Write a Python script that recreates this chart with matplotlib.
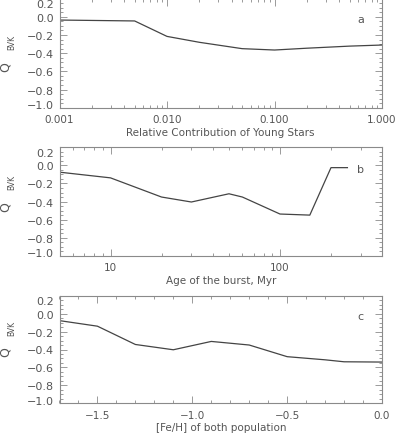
import matplotlib
matplotlib.use("Agg")
import matplotlib.pyplot as plt
import matplotlib.transforms as mtrans
from matplotlib.ticker import LogLocator, MultipleLocator, NullFormatter

# ---- data ----
frac_young = [0.001, 0.005, 0.01, 0.02, 0.05, 0.1, 0.2, 0.5, 1.0]
q_frac = [-0.035, -0.045, -0.215, -0.28, -0.35, -0.365, -0.345, -0.322, -0.31]

burst_age = [5, 10, 20, 30, 50, 60, 100, 150, 200, 250]
q_age = [-0.075, -0.138, -0.35, -0.405, -0.314, -0.35, -0.538, -0.55, -0.025, -0.025]

feh = [-1.7, -1.5, -1.3, -1.1, -0.9, -0.7, -0.5, -0.3, -0.2, 0.0]
q_feh = [-0.078, -0.14, -0.344, -0.403, -0.31, -0.35, -0.48, -0.515, -0.537, -0.54]

ytick_vals = [0.2, 0.0, -0.2, -0.4, -0.6, -0.8, -1.0]
ytick_labels = ["0.2", "0.0", "\u22120.2", "\u22120.4", "\u22120.6", "\u22120.8", "\u22121.0"]

a_ticks = [0.001, 0.01, 0.1, 1.0]
a_labels = ["0.001", "0.010", "0.100", "1.000"]
b_ticks = [10, 100]
b_labels = ["10", "100"]
c_ticks = [-1.5, -1.0, -0.5, 0.0]
c_labels = ["\u22121.5", "\u22121.0", "\u22120.5", "0.0"]

xlabels = ["Relative Contribution of Young Stars", "Age of the burst, Myr",
           "[Fe/H] of both population"]
panel_tags = ["a", "b", "c"]

# ---- layout (pixels) ----
W, H = 397, 435
fig = plt.figure(figsize=(W / 100, H / 100), dpi=100)
plt.rcParams['font.family'] = ['DejaVu Sans']

LINE = "#444444"
FRAME = "#8a8a8a"
TXT = "#555555"

left, right = 59.5, 382.0
frames = [(-0.3, 108.7), (148.3, 256.8), (296.7, 404.3)]
axes = []
for (top, bot) in frames:
    ax = fig.add_axes([left / W, 1 - bot / H, (right - left) / W, (bot - top) / H])
    axes.append(ax)

# panel a
ax = axes[0]
ax.plot(frac_young, q_frac, color=LINE, lw=0.9)
ax.set_xscale('log')
ax.set_xlim(0.001, 1.0)
ax.set_xticks(a_ticks)
ax.set_xticklabels(a_labels)
ax.xaxis.set_minor_locator(LogLocator(base=10, subs=range(2, 10)))
ax.xaxis.set_minor_formatter(NullFormatter())

# panel b
ax = axes[1]
ax.plot(burst_age, q_age, color=LINE, lw=0.9)
ax.set_xscale('log')
ax.set_xlim(5, 400)
ax.set_xticks(b_ticks)
ax.set_xticklabels(b_labels)
ax.xaxis.set_minor_locator(LogLocator(base=10, subs=range(2, 10)))
ax.xaxis.set_minor_formatter(NullFormatter())

# panel c
ax = axes[2]
ax.plot(feh, q_feh, color=LINE, lw=0.9)
ax.set_xlim(-1.7, 0.0)
ax.set_xticks(c_ticks)
ax.set_xticklabels(c_labels)
ax.xaxis.set_minor_locator(MultipleLocator(0.1))

q_pos = [(5, 66.7, 12, 42.7), (5, 206.7, 12, 182.7), (5, 351.7, 12, 328.3)]
tag_pos = [(361, 20), (360, 170), (360, 317)]

for i, ax in enumerate(axes):
    ax.set_ylim(-1.0, 0.2)
    ax.set_yticks(ytick_vals)
    ax.set_yticklabels(ytick_labels)
    ax.yaxis.set_minor_locator(MultipleLocator(0.05))
    ax.tick_params(which='both', direction='in', top=True, right=True,
                   colors=FRAME, labelcolor=TXT)
    ax.tick_params(axis='y', which='major', length=5, width=0.6, labelsize=8, pad=4)
    ax.tick_params(axis='y', which='minor', length=2.5, width=0.6)
    ax.tick_params(axis='x', which='major', length=5, width=0.6, labelsize=7.5, pad=4.5)
    ax.tick_params(axis='x', which='minor', length=2.5, width=0.6)
    for sp in ax.spines.values():
        sp.set_color(FRAME)
        sp.set_linewidth(0.8)
    ax.set_xlabel(xlabels[i], fontsize=7.5, color=TXT, labelpad=2)
    ticks = ax.yaxis.get_major_ticks()
    lab_top = ticks[0].label1
    lab_bot = ticks[-1].label1
    lab_top.set_transform(lab_top.get_transform() +
                          mtrans.ScaledTranslation(0, -4.5 / 100, fig.dpi_scale_trans))
    lab_bot.set_transform(lab_bot.get_transform() +
                          mtrans.ScaledTranslation(0, 3.5 / 100, fig.dpi_scale_trans))
    qx, qy, bx, by = q_pos[i]
    fig.text(qx / W, 1 - qy / H, "Q", rotation=90, fontsize=9, color=TXT,
             ha='center', va='center')
    fig.text(bx / W, 1 - by / H, "BVK", rotation=90, fontsize=5.5, color=TXT,
             ha='center', va='center')
    tx, ty = tag_pos[i]
    fig.text(tx / W, 1 - ty / H, panel_tags[i], fontsize=8, color=TXT,
             ha='center', va='center')

fig.savefig("out.png", dpi=100)
